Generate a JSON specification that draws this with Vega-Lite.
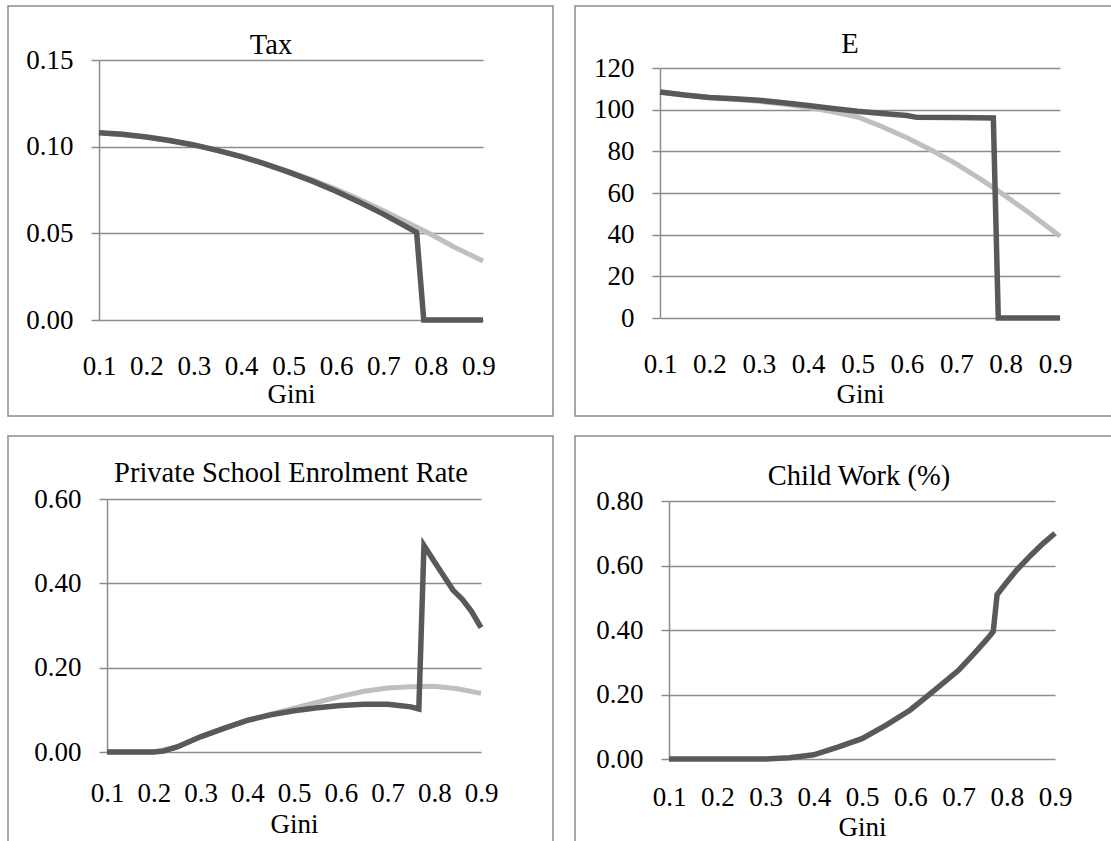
{
  "$schema": "https://vega.github.io/schema/vega-lite/v6.json",
  "padding": {"left": 7, "top": 5, "right": 0, "bottom": 0},
  "data": {"values": [
    {"panel": "Tax", "series": "Scenario 1", "gini": 0.1, "value": 0.108},
    {"panel": "Tax", "series": "Scenario 1", "gini": 0.15, "value": 0.1071},
    {"panel": "Tax", "series": "Scenario 1", "gini": 0.2, "value": 0.1056},
    {"panel": "Tax", "series": "Scenario 1", "gini": 0.25, "value": 0.1036},
    {"panel": "Tax", "series": "Scenario 1", "gini": 0.3, "value": 0.101},
    {"panel": "Tax", "series": "Scenario 1", "gini": 0.35, "value": 0.0979},
    {"panel": "Tax", "series": "Scenario 1", "gini": 0.4, "value": 0.0943},
    {"panel": "Tax", "series": "Scenario 1", "gini": 0.45, "value": 0.0901},
    {"panel": "Tax", "series": "Scenario 1", "gini": 0.5, "value": 0.0853},
    {"panel": "Tax", "series": "Scenario 1", "gini": 0.55, "value": 0.0801},
    {"panel": "Tax", "series": "Scenario 1", "gini": 0.6, "value": 0.0743},
    {"panel": "Tax", "series": "Scenario 1", "gini": 0.65, "value": 0.0679},
    {"panel": "Tax", "series": "Scenario 1", "gini": 0.7, "value": 0.0611},
    {"panel": "Tax", "series": "Scenario 1", "gini": 0.75, "value": 0.0536},
    {"panel": "Tax", "series": "Scenario 1", "gini": 0.77, "value": 0.0505},
    {"panel": "Tax", "series": "Scenario 1", "gini": 0.785, "value": 0},
    {"panel": "Tax", "series": "Scenario 1", "gini": 0.85, "value": 0},
    {"panel": "Tax", "series": "Scenario 1", "gini": 0.91, "value": 0},
    {"panel": "Tax", "series": "Scenario 2", "gini": 0.1, "value": 0.108},
    {"panel": "Tax", "series": "Scenario 2", "gini": 0.2, "value": 0.1056},
    {"panel": "Tax", "series": "Scenario 2", "gini": 0.3, "value": 0.101},
    {"panel": "Tax", "series": "Scenario 2", "gini": 0.4, "value": 0.0945},
    {"panel": "Tax", "series": "Scenario 2", "gini": 0.5, "value": 0.0858},
    {"panel": "Tax", "series": "Scenario 2", "gini": 0.55, "value": 0.0808},
    {"panel": "Tax", "series": "Scenario 2", "gini": 0.6, "value": 0.0755},
    {"panel": "Tax", "series": "Scenario 2", "gini": 0.65, "value": 0.0695},
    {"panel": "Tax", "series": "Scenario 2", "gini": 0.7, "value": 0.063},
    {"panel": "Tax", "series": "Scenario 2", "gini": 0.75, "value": 0.0562},
    {"panel": "Tax", "series": "Scenario 2", "gini": 0.8, "value": 0.0495},
    {"panel": "Tax", "series": "Scenario 2", "gini": 0.85, "value": 0.042},
    {"panel": "Tax", "series": "Scenario 2", "gini": 0.91, "value": 0.034},

    {"panel": "E", "series": "Scenario 1", "gini": 0.1, "value": 108.5},
    {"panel": "E", "series": "Scenario 1", "gini": 0.15, "value": 107},
    {"panel": "E", "series": "Scenario 1", "gini": 0.2, "value": 105.8},
    {"panel": "E", "series": "Scenario 1", "gini": 0.25, "value": 105.2},
    {"panel": "E", "series": "Scenario 1", "gini": 0.3, "value": 104.5},
    {"panel": "E", "series": "Scenario 1", "gini": 0.35, "value": 103.3},
    {"panel": "E", "series": "Scenario 1", "gini": 0.4, "value": 102},
    {"panel": "E", "series": "Scenario 1", "gini": 0.45, "value": 100.6},
    {"panel": "E", "series": "Scenario 1", "gini": 0.5, "value": 99.2},
    {"panel": "E", "series": "Scenario 1", "gini": 0.55, "value": 98.2},
    {"panel": "E", "series": "Scenario 1", "gini": 0.6, "value": 97.2},
    {"panel": "E", "series": "Scenario 1", "gini": 0.62, "value": 96.3},
    {"panel": "E", "series": "Scenario 1", "gini": 0.7, "value": 96.2},
    {"panel": "E", "series": "Scenario 1", "gini": 0.775, "value": 96},
    {"panel": "E", "series": "Scenario 1", "gini": 0.785, "value": 0},
    {"panel": "E", "series": "Scenario 1", "gini": 0.85, "value": 0},
    {"panel": "E", "series": "Scenario 1", "gini": 0.91, "value": 0},
    {"panel": "E", "series": "Scenario 2", "gini": 0.1, "value": 108.5},
    {"panel": "E", "series": "Scenario 2", "gini": 0.15, "value": 107},
    {"panel": "E", "series": "Scenario 2", "gini": 0.2, "value": 105.8},
    {"panel": "E", "series": "Scenario 2", "gini": 0.25, "value": 105},
    {"panel": "E", "series": "Scenario 2", "gini": 0.3, "value": 104},
    {"panel": "E", "series": "Scenario 2", "gini": 0.35, "value": 102.7},
    {"panel": "E", "series": "Scenario 2", "gini": 0.4, "value": 101},
    {"panel": "E", "series": "Scenario 2", "gini": 0.45, "value": 99},
    {"panel": "E", "series": "Scenario 2", "gini": 0.5, "value": 96.5},
    {"panel": "E", "series": "Scenario 2", "gini": 0.55, "value": 91.8},
    {"panel": "E", "series": "Scenario 2", "gini": 0.6, "value": 86.5},
    {"panel": "E", "series": "Scenario 2", "gini": 0.65, "value": 80.5},
    {"panel": "E", "series": "Scenario 2", "gini": 0.7, "value": 74},
    {"panel": "E", "series": "Scenario 2", "gini": 0.75, "value": 66.5},
    {"panel": "E", "series": "Scenario 2", "gini": 0.8, "value": 58.5},
    {"panel": "E", "series": "Scenario 2", "gini": 0.85, "value": 50},
    {"panel": "E", "series": "Scenario 2", "gini": 0.9, "value": 41},
    {"panel": "E", "series": "Scenario 2", "gini": 0.91, "value": 39.2},

    {"panel": "Private", "series": "Scenario 1", "gini": 0.1, "value": 0},
    {"panel": "Private", "series": "Scenario 1", "gini": 0.15, "value": 0},
    {"panel": "Private", "series": "Scenario 1", "gini": 0.2, "value": 0},
    {"panel": "Private", "series": "Scenario 1", "gini": 0.22, "value": 0.002},
    {"panel": "Private", "series": "Scenario 1", "gini": 0.25, "value": 0.012},
    {"panel": "Private", "series": "Scenario 1", "gini": 0.3, "value": 0.036},
    {"panel": "Private", "series": "Scenario 1", "gini": 0.35, "value": 0.056},
    {"panel": "Private", "series": "Scenario 1", "gini": 0.4, "value": 0.075},
    {"panel": "Private", "series": "Scenario 1", "gini": 0.45, "value": 0.088},
    {"panel": "Private", "series": "Scenario 1", "gini": 0.5, "value": 0.098},
    {"panel": "Private", "series": "Scenario 1", "gini": 0.55, "value": 0.105},
    {"panel": "Private", "series": "Scenario 1", "gini": 0.6, "value": 0.11},
    {"panel": "Private", "series": "Scenario 1", "gini": 0.65, "value": 0.113},
    {"panel": "Private", "series": "Scenario 1", "gini": 0.7, "value": 0.113},
    {"panel": "Private", "series": "Scenario 1", "gini": 0.72, "value": 0.111},
    {"panel": "Private", "series": "Scenario 1", "gini": 0.75, "value": 0.107},
    {"panel": "Private", "series": "Scenario 1", "gini": 0.767, "value": 0.102},
    {"panel": "Private", "series": "Scenario 1", "gini": 0.778, "value": 0.49},
    {"panel": "Private", "series": "Scenario 1", "gini": 0.8, "value": 0.452},
    {"panel": "Private", "series": "Scenario 1", "gini": 0.82, "value": 0.418},
    {"panel": "Private", "series": "Scenario 1", "gini": 0.84, "value": 0.384},
    {"panel": "Private", "series": "Scenario 1", "gini": 0.86, "value": 0.362},
    {"panel": "Private", "series": "Scenario 1", "gini": 0.88, "value": 0.333},
    {"panel": "Private", "series": "Scenario 1", "gini": 0.9, "value": 0.295},
    {"panel": "Private", "series": "Scenario 2", "gini": 0.1, "value": 0},
    {"panel": "Private", "series": "Scenario 2", "gini": 0.2, "value": 0},
    {"panel": "Private", "series": "Scenario 2", "gini": 0.25, "value": 0.012},
    {"panel": "Private", "series": "Scenario 2", "gini": 0.3, "value": 0.036},
    {"panel": "Private", "series": "Scenario 2", "gini": 0.35, "value": 0.056},
    {"panel": "Private", "series": "Scenario 2", "gini": 0.4, "value": 0.075},
    {"panel": "Private", "series": "Scenario 2", "gini": 0.45, "value": 0.09},
    {"panel": "Private", "series": "Scenario 2", "gini": 0.5, "value": 0.104},
    {"panel": "Private", "series": "Scenario 2", "gini": 0.55, "value": 0.118},
    {"panel": "Private", "series": "Scenario 2", "gini": 0.6, "value": 0.132},
    {"panel": "Private", "series": "Scenario 2", "gini": 0.65, "value": 0.144},
    {"panel": "Private", "series": "Scenario 2", "gini": 0.7, "value": 0.152},
    {"panel": "Private", "series": "Scenario 2", "gini": 0.75, "value": 0.155},
    {"panel": "Private", "series": "Scenario 2", "gini": 0.8, "value": 0.156},
    {"panel": "Private", "series": "Scenario 2", "gini": 0.85, "value": 0.15},
    {"panel": "Private", "series": "Scenario 2", "gini": 0.9, "value": 0.139},

    {"panel": "Child", "series": "Scenario 1", "gini": 0.1, "value": 0},
    {"panel": "Child", "series": "Scenario 1", "gini": 0.2, "value": 0},
    {"panel": "Child", "series": "Scenario 1", "gini": 0.3, "value": 0},
    {"panel": "Child", "series": "Scenario 1", "gini": 0.35, "value": 0.004},
    {"panel": "Child", "series": "Scenario 1", "gini": 0.4, "value": 0.013},
    {"panel": "Child", "series": "Scenario 1", "gini": 0.45, "value": 0.037},
    {"panel": "Child", "series": "Scenario 1", "gini": 0.5, "value": 0.063},
    {"panel": "Child", "series": "Scenario 1", "gini": 0.55, "value": 0.105},
    {"panel": "Child", "series": "Scenario 1", "gini": 0.6, "value": 0.152},
    {"panel": "Child", "series": "Scenario 1", "gini": 0.65, "value": 0.213},
    {"panel": "Child", "series": "Scenario 1", "gini": 0.7, "value": 0.275},
    {"panel": "Child", "series": "Scenario 1", "gini": 0.73, "value": 0.323},
    {"panel": "Child", "series": "Scenario 1", "gini": 0.76, "value": 0.373},
    {"panel": "Child", "series": "Scenario 1", "gini": 0.772, "value": 0.395},
    {"panel": "Child", "series": "Scenario 1", "gini": 0.78, "value": 0.51},
    {"panel": "Child", "series": "Scenario 1", "gini": 0.8, "value": 0.548},
    {"panel": "Child", "series": "Scenario 1", "gini": 0.82, "value": 0.585},
    {"panel": "Child", "series": "Scenario 1", "gini": 0.85, "value": 0.632},
    {"panel": "Child", "series": "Scenario 1", "gini": 0.875, "value": 0.668},
    {"panel": "Child", "series": "Scenario 1", "gini": 0.9, "value": 0.7}
  ]},
  "columns": 2,
  "spacing": {"row": 18, "column": 20},
  "concat": [
    {
      "width": 545, "height": 410,
      "title": {"text": "Tax", "offset": -53, "dx": -9.5},
      "transform": [{"filter": "datum.panel === 'Tax'"}],
      "encoding": {
        "x": {"field": "gini", "type": "quantitative",
              "scale": {"domain": [0.1, 0.91], "range": [91, 475], "nice": false, "zero": false},
              "axis": {"values": [0.1, 0.2, 0.3, 0.4, 0.5, 0.6, 0.7, 0.8, 0.9], "format": ".1f", "title": "Gini", "offset": -96, "titlePadding": 2}},
        "y": {"field": "value", "type": "quantitative",
              "scale": {"domain": [0, 0.15], "range": [314, 54], "nice": false, "zero": false},
              "axis": {"values": [0, 0.05, 0.1, 0.15], "format": ".2f", "title": null, "offset": -91}}
      },
      "layer": [
        {"transform": [{"filter": "datum.series === 'Scenario 2'"}], "mark": {"type": "line", "color": "#bfbfbf", "strokeWidth": 5}},
        {"transform": [{"filter": "datum.series === 'Scenario 1'"}], "mark": {"type": "line", "color": "#595959", "strokeWidth": 5.5}}
      ]
    },
    {
      "width": 545, "height": 410,
      "title": {"text": "E", "offset": -52, "dx": 2.5},
      "transform": [{"filter": "datum.panel === 'E'"}],
      "encoding": {
        "x": {"field": "gini", "type": "quantitative",
              "scale": {"domain": [0.1, 0.91], "range": [85, 485], "nice": false, "zero": false},
              "axis": {"values": [0.1, 0.2, 0.3, 0.4, 0.5, 0.6, 0.7, 0.8, 0.9], "format": ".1f", "title": "Gini", "offset": -98, "titlePadding": 4}},
        "y": {"field": "value", "type": "quantitative",
              "scale": {"domain": [0, 120], "range": [312, 62], "nice": false, "zero": false},
              "axis": {"values": [0, 20, 40, 60, 80, 100, 120], "format": "d", "title": null, "offset": -85}}
      },
      "layer": [
        {"transform": [{"filter": "datum.series === 'Scenario 2'"}], "mark": {"type": "line", "color": "#bfbfbf", "strokeWidth": 5}},
        {"transform": [{"filter": "datum.series === 'Scenario 1'"}], "mark": {"type": "line", "color": "#595959", "strokeWidth": 5.5}}
      ]
    },
    {
      "width": 545, "height": 410,
      "title": {"text": "Private School Enrolment Rate", "offset": -51, "dx": 10.5},
      "transform": [{"filter": "datum.panel === 'Private'"}],
      "encoding": {
        "x": {"field": "gini", "type": "quantitative",
              "scale": {"domain": [0.1, 0.9], "range": [99, 473], "nice": false, "zero": false},
              "axis": {"values": [0.1, 0.2, 0.3, 0.4, 0.5, 0.6, 0.7, 0.8, 0.9], "format": ".1f", "title": "Gini", "offset": -94, "labelPadding": 28, "titlePadding": 5}},
        "y": {"field": "value", "type": "quantitative",
              "scale": {"domain": [0, 0.6], "range": [316, 63], "nice": false, "zero": false},
              "axis": {"values": [0, 0.2, 0.4, 0.6], "format": ".2f", "title": null, "offset": -99}}
      },
      "layer": [
        {"transform": [{"filter": "datum.series === 'Scenario 2'"}], "mark": {"type": "line", "color": "#bfbfbf", "strokeWidth": 5}},
        {"transform": [{"filter": "datum.series === 'Scenario 1'"}], "mark": {"type": "line", "color": "#595959", "strokeWidth": 5.5}}
      ]
    },
    {
      "width": 545, "height": 410,
      "title": {"text": "Child Work (%)", "offset": -54, "dx": 11.5},
      "transform": [{"filter": "datum.panel === 'Child'"}],
      "encoding": {
        "x": {"field": "gini", "type": "quantitative",
              "scale": {"domain": [0.1, 0.9], "range": [94, 480], "nice": false, "zero": false},
              "axis": {"values": [0.1, 0.2, 0.3, 0.4, 0.5, 0.6, 0.7, 0.8, 0.9], "format": ".1f", "title": "Gini", "offset": -87, "labelPadding": 25, "titlePadding": 4}},
        "y": {"field": "value", "type": "quantitative",
              "scale": {"domain": [0, 0.8], "range": [323, 65], "nice": false, "zero": false},
              "axis": {"values": [0, 0.2, 0.4, 0.6, 0.8], "format": ".2f", "title": null, "offset": -94}}
      },
      "layer": [
        {"mark": {"type": "line", "color": "#595959", "strokeWidth": 5.5}}
      ]
    }
  ],
  "config": {
    "font": "Liberation Serif",
    "view": {"stroke": "#8c8c8c", "strokeWidth": 1.5},
    "axis": {
      "labelFont": "Liberation Serif", "labelFontSize": 27, "labelColor": "#000000",
      "titleFont": "Liberation Serif", "titleFontSize": 27, "titleFontWeight": "normal", "titleColor": "#000000",
      "gridColor": "#8c8c8c", "gridWidth": 1.5, "gridOpacity": 1,
      "domainColor": "#8c8c8c", "domainWidth": 1.5,
      "tickColor": "#8c8c8c", "tickWidth": 1.5, "tickSize": 8,
      "labelFlush": false, "labelOverlap": false
    },
    "axisX": {"grid": false, "domain": false, "ticks": false, "labelPadding": 33},
    "axisY": {"grid": true, "domain": true, "ticks": true, "labelPadding": 18},
    "title": {"font": "Liberation Serif", "fontSize": 28.5, "fontWeight": "normal", "color": "#000000", "anchor": "middle", "frame": "group", "baseline": "alphabetic"}
  }
}
